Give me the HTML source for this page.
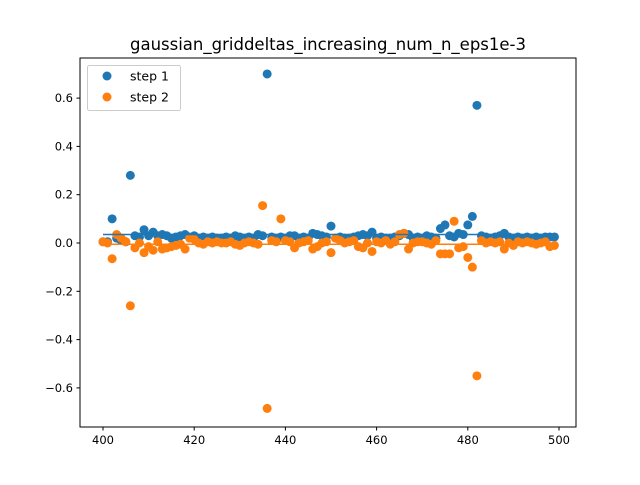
<!DOCTYPE html>
<html><head><meta charset="utf-8"><style>
body{margin:0;background:#fff}
svg text{font-family:"DejaVu Sans","Liberation Sans",sans-serif}
</style></head><body>
<svg width="640" height="480" xmlns="http://www.w3.org/2000/svg">
<rect width="640" height="480" fill="#fff"/>
<g id="plot"></g>
<text x="328" y="50" text-anchor="middle" font-size="16.5">gaussian_griddeltas_increasing_num_n_eps1e-3</text>
<rect x="80" y="58" width="496" height="369" fill="none" stroke="#000" stroke-width="1"/>
<g>
<rect x="87.5" y="65.5" width="93" height="45" rx="2" fill="#fff" fill-opacity="0.8" stroke="#ccc"/>
<circle cx="107" cy="76" r="4.5" fill="#1f77b4"/>
<text x="130" y="80.5" font-size="12.5">step 1</text>
<circle cx="107" cy="97" r="4.5" fill="#ff7f0e"/>
<text x="130" y="101.5" font-size="12.5">step 2</text>
</g>
</svg>
<script>
const xStart = 400;
const step1 = [0.005,0.005,0.1,0.02,0.01,0.005,0.28,0.03,0.025,0.055,
0.03,0.045,0.03,0.035,0.03,0.02,0.025,0.03,0.035,0.025,
0.03,0.02,0.025,0.02,0.025,0.02,0.02,0.025,0.02,0.03,
0.025,0.02,0.025,0.02,0.035,0.03,0.70,0.025,0.02,0.025,
0.02,0.03,0.03,0.02,0.025,0.02,0.04,0.035,0.03,0.025,
0.07,0.02,0.025,0.02,0.02,0.025,0.03,0.035,0.03,0.045,
0.02,0.025,0.02,0.02,0.025,0.03,0.04,0.035,0.02,0.025,
0.02,0.03,0.025,0.02,0.06,0.075,0.03,0.025,0.04,0.035,
0.075,0.11,0.57,0.03,0.025,0.02,0.025,0.03,0.04,0.025,
0.02,0.025,0.02,0.025,0.02,0.025,0.02,0.025,0.025,0.025];
const step2 = [0.005,0.0,-0.065,0.035,0.02,0.005,-0.26,-0.02,0.0,-0.04,
-0.015,-0.03,0.005,-0.025,-0.02,-0.015,-0.01,-0.005,-0.025,0.02,
0.015,0.0,-0.005,0.005,0.0,0.005,0.0,0.0,0.005,-0.005,
-0.01,0.0,0.005,0.0,-0.005,0.155,-0.685,0.01,0.005,0.1,
0.01,0.005,-0.02,0.0,0.005,0.01,-0.025,-0.015,0.0,0.005,
-0.04,0.02,0.01,0.0,0.005,0.01,-0.015,-0.02,0.0,-0.035,
0.005,0.0,0.01,-0.005,0.005,0.035,0.04,-0.025,0.0,0.005,
0.005,0.0,-0.005,0.01,-0.045,-0.045,-0.045,0.09,-0.02,-0.015,
-0.06,-0.1,-0.55,0.01,0.0,0.005,0.0,0.005,-0.025,0.0,
-0.01,0.005,0.0,0.005,0.0,-0.005,0.0,0.005,-0.015,-0.01];
const line1 = 0.035;
const line2 = -0.005;
const xTicks = [400,420,440,460,480,500];
const yTicks = [-0.6,-0.4,-0.2,0.0,0.2,0.4,0.6];

const NS = "http://www.w3.org/2000/svg";
const g = document.getElementById('plot');
const sx = v => 103 + (v - 400) * 4.56;
const sy = v => 243 - v * 241.5;
function mk(tag, attrs){const e=document.createElementNS(NS,tag);for(const k in attrs)e.setAttribute(k,attrs[k]);g.appendChild(e);return e;}

xTicks.forEach(t=>{
  const l=mk('line',{x1:sx(t),x2:sx(t),y1:427,y2:430.5,stroke:'#000'});
  
  
  const tx=mk('text',{x:sx(t),y:444,'text-anchor':'middle','font-size':11.5});
  tx.textContent=t;
  
  
});
yTicks.forEach(t=>{
  const l=mk('line',{x1:76.5,x2:80,y1:sy(t),y2:sy(t),stroke:'#000'});
  
  
  const tx=mk('text',{x:73,y:sy(t)+4,'text-anchor':'end','font-size':11.5});
  tx.textContent=(t<0?'\u2212':'')+Math.abs(t).toFixed(1);
  
  
});
function series(vals,color,name){
  vals.forEach((v,i)=>{
    const c=mk('circle',{cx:sx(xStart+i),cy:sy(v),r:4.5,fill:color});
    
    
  });
}
series(step1,'#1f77b4','step-1');
series(step2,'#ff7f0e','step-2');
const l1=mk('line',{x1:sx(400),x2:sx(499),y1:sy(line1),y2:sy(line1),stroke:'#1f77b4','stroke-width':1.5});


const l2=mk('line',{x1:sx(400),x2:sx(499),y1:sy(line2),y2:sy(line2),stroke:'#ff7f0e','stroke-width':1.5});


</script>
</body></html>
